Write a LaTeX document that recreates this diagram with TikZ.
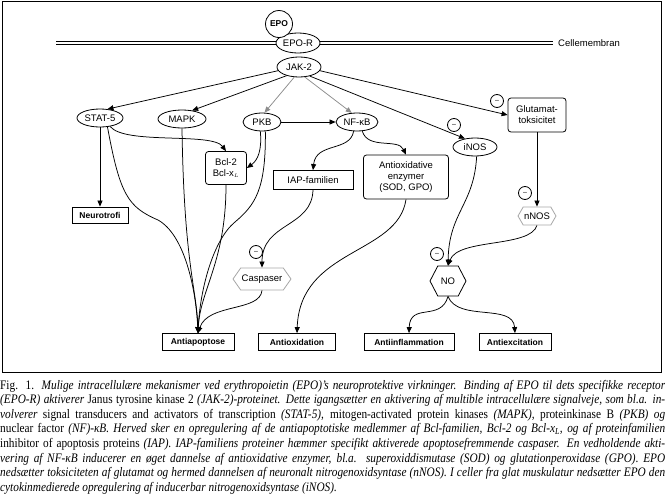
\documentclass[tikz,border=0pt]{standalone}
\usepackage{fontspec}
\setmainfont{Liberation Serif}[FakeStretch=0.87]
\newfontfamily\labfont{Liberation Sans}
\usetikzlibrary{arrows.meta,shapes.geometric,shapes.symbols}
\begin{document}
\begin{tikzpicture}[x=1pt,y=-1pt,
  lab/.style={font=\labfont\fontsize{9.5}{11}\selectfont, inner sep=0pt, align=center},
  ell/.style={lab, draw, ellipse, line width=0.8pt, minimum width=#1, minimum height=18pt, fill=white},
  rbox/.style={lab, draw, rounded corners=3pt, line width=0.8pt},
  sbox/.style={lab, draw, line width=0.8pt},
  outbox/.style={draw, line width=0.8pt, inner sep=0pt, minimum height=17pt,
     font=\labfont\bfseries\fontsize{8.5}{9}\selectfont},
  hexa/.style={lab, draw, signal, signal to=east and west, line width=0.8pt},
  minus/.style={draw, circle, line width=0.8pt, minimum size=13pt, inner sep=0pt,
     font=\labfont\fontsize{7}{7}\selectfont},
  arr/.style={line width=0.75pt, -{Triangle[length=6pt,width=5pt]}},
  capline/.style={anchor=base west, inner sep=0pt, font=\fontsize{13}{14}\selectfont}
]
\useasboundingbox (0,0) rectangle (665,498);
% frame
\coordinate (fTL) at (2,1);
\coordinate (fBR) at (661,372);
\draw[line width=1pt] (fTL) rectangle (fBR);

% membrane
\coordinate (memL) at (56,43);
\coordinate (memR) at (553,43);
\draw[line width=1.5pt, double=white, double distance=1.2pt] (memL) -- (memR);
\node[lab, anchor=west] (cm) at (558,43) {Cellemembran};

% top nodes
\node[ell=44pt, minimum height=20pt] (epor) at (298,43) {EPO-R};
\node[draw, circle, fill=white, line width=0.8pt, minimum size=27pt, inner sep=0pt,
      font=\labfont\bfseries\fontsize{8.5}{9}\selectfont] (epo) at (279,24) {EPO};
\node[ell=44pt, minimum height=20pt] (jak) at (299,67) {JAK-2};

% second row
\node[ell=46pt] (stat) at (100,118) {STAT-5};
\node[ell=48pt] (mapk) at (182,119) {MAPK};
\node[ell=38pt] (pkb) at (262,122) {PKB};
\node[ell=42pt] (nfkb) at (357,122) {NF-κB};
\node[ell=44pt] (inos) at (475,147) {iNOS};
\node[rbox, minimum width=58pt, minimum height=34pt] (glut) at (537,115) {Glutamat-\\toksicitet};

% middle
\node[rbox, minimum width=41pt, minimum height=33pt] (bcl) at (226,168) {Bcl-2\\Bcl-x$_{\scriptscriptstyle L}$};
\node[sbox, minimum width=56pt, minimum height=16pt,
      font=\labfont\bfseries\fontsize{8.5}{9}\selectfont] (neuro) at (100,215) {Neurotrofi};
\node[sbox, minimum width=80pt, minimum height=19pt] (iap) at (313,180) {IAP-familien};
\node[rbox, minimum width=85pt, minimum height=44pt] (aox) at (406,177) {Antioxidative\\enzymer\\(SOD, GPO)};

% hexagons
\node[hexa, draw=black!35, minimum width=58pt, minimum height=22pt, signal pointer angle=110] (casp) at (262,279) {Caspaser};
\node[hexa, draw=black!35, minimum width=38pt, minimum height=18pt, signal pointer angle=120] (nnos) at (537,216) {nNOS};
\node[hexa, minimum width=36pt, minimum height=30pt, signal pointer angle=125] (no) at (448,281) {NO};

% outcomes
\node[outbox, minimum width=72pt] (apop) at (198,342) {Antiapoptose};
\node[outbox, minimum width=77pt] (antiox) at (297,342) {Antioxidation};
\node[outbox, minimum width=90pt] (infl) at (409,342) {Antiinflammation};
\node[outbox, minimum width=72pt] (exc) at (515,342) {Antiexcitation};

% minus circles
\node[minus] (m1) at (256,252) {–};
\node[minus] (m2) at (437,254) {–};
\node[minus] (m3) at (525,193) {–};
\node[minus] (m4) at (454,125) {–};
\node[minus] (m5) at (497,101) {–};

% JAK-2 outputs
\draw[arr] (jak.190) -- (stat.50);
\draw[arr] (jak.215) -- (mapk.40);
\draw[arr, draw=black!45] (jak.245) -- (pkb.75);
\draw[arr, draw=black!45] (jak.300) -- (nfkb.120);
\draw[arr] (jak.320) -- (inos.140);
\draw[arr] (jak.-10) -- (glut.west);

% STAT-5
\draw[arr] (stat.south) -- (neuro.north);
\draw[arr] (stat.-40) .. controls (125,145) and (212,132) .. (bcl.north);
\draw[arr] (stat.-50) .. controls (120,195) and (128,207) .. (158,220)
                      .. controls (185,235) and (196,290) .. (apop.north);
% MAPK
\draw[arr] (mapk.south) .. controls (184,265) and (197,290) .. (apop.north);
% Bcl
\draw[arr] (bcl.south) .. controls (226,262) and (200,290) .. (apop.north);
% PKB
\draw[arr] (pkb.-100) .. controls (262,150) and (258,160) .. (bcl.east);
\draw[arr] (pkb.-70) .. controls (266,190) and (255,205) .. (235,222)
                     .. controls (213,240) and (200,290) .. (apop.north);
\draw[arr] (pkb.east) -- (nfkb.west);
% Caspaser
\draw[arr] (casp.south) .. controls (260,312) and (208,303) .. (apop.north);
% NF-kB
\draw[arr] (nfkb.-110) .. controls (350,152) and (316,142) .. (iap.north);
\draw[arr] (nfkb.-60) .. controls (368,150) and (398,138) .. (aox.north);
% IAP -> Caspaser
\draw[arr] (iap.south) .. controls (312,228) and (262,222) .. (casp.north);
% Antioxidative -> Antioxidation
\draw[arr] (aox.south) .. controls (398,255) and (300,248) .. (antiox.north);
% iNOS -> NO
\draw[arr] (inos.-80) .. controls (474,205) and (449,212) .. (no.north);
% Glutamat -> nNOS
\draw[arr] (glut.south) -- (nnos.north);
% nNOS -> NO
\draw[arr] (nnos.south) .. controls (530,248) and (458,238) .. (no.north);
% NO -> outcomes
\draw[arr] (no.south) .. controls (441,322) and (410,302) .. (infl.north);
\draw[arr] (no.south) .. controls (458,322) and (513,303) .. (exc.north);

% caption
\node[capline] (c1) at (0,389) {\makebox[665pt][s]{Fig. 1. \textit{Mulige intracellulære mekanismer ved erythropoietin (EPO)’s neuroprotektive virkninger. Binding af EPO til dets specifikke receptor}}};
\node[capline] (c2) at (0,403.6) {\makebox[665pt][s]{\textit{(EPO-R) aktiverer} Janus tyrosine kinase 2 \textit{(JAK-2)-proteinet. Dette igangsætter en aktivering af multible intracellulære signalveje, som bl.a. in-}}};
\node[capline] (c3) at (0,418.2) {\makebox[665pt][s]{\textit{volverer} signal transducers and activators of transcription \textit{(STAT-5),} mitogen-activated protein kinases \textit{(MAPK),} proteinkinase B \textit{(PKB) og}}};
\node[capline] (c4) at (0,432.8) {\makebox[665pt][s]{nuclear factor \textit{(NF)-κB. Herved sker en opregulering af de antiapoptotiske medlemmer af Bcl-familien, Bcl-2 og Bcl-x\textsubscript{L}, og af proteinfamilien}}};
\node[capline] (c5) at (0,447.4) {\makebox[665pt][s]{inhibitor of apoptosis proteins \textit{(IAP). IAP-familiens proteiner hæmmer specifikt aktiverede apoptosefremmende caspaser. En vedholdende akti-}}};
\node[capline] (c6) at (0,462) {\makebox[665pt][s]{\textit{vering af NF-κB inducerer en øget dannelse af antioxidative enzymer, bl.a. superoxiddismutase (SOD) og glutationperoxidase (GPO). EPO}}};
\node[capline] (c7) at (0,476.6) {\makebox[665pt][s]{\textit{nedsætter toksiciteten af glutamat og hermed dannelsen af neuronalt nitrogenoxidsyntase (nNOS). I celler fra glat muskulatur nedsætter EPO den}}};
\node[capline] (c8) at (0,491.2) {\textit{cytokinmedierede opregulering af inducerbar nitrogenoxidsyntase (iNOS).}};
\end{tikzpicture}
\end{document}
